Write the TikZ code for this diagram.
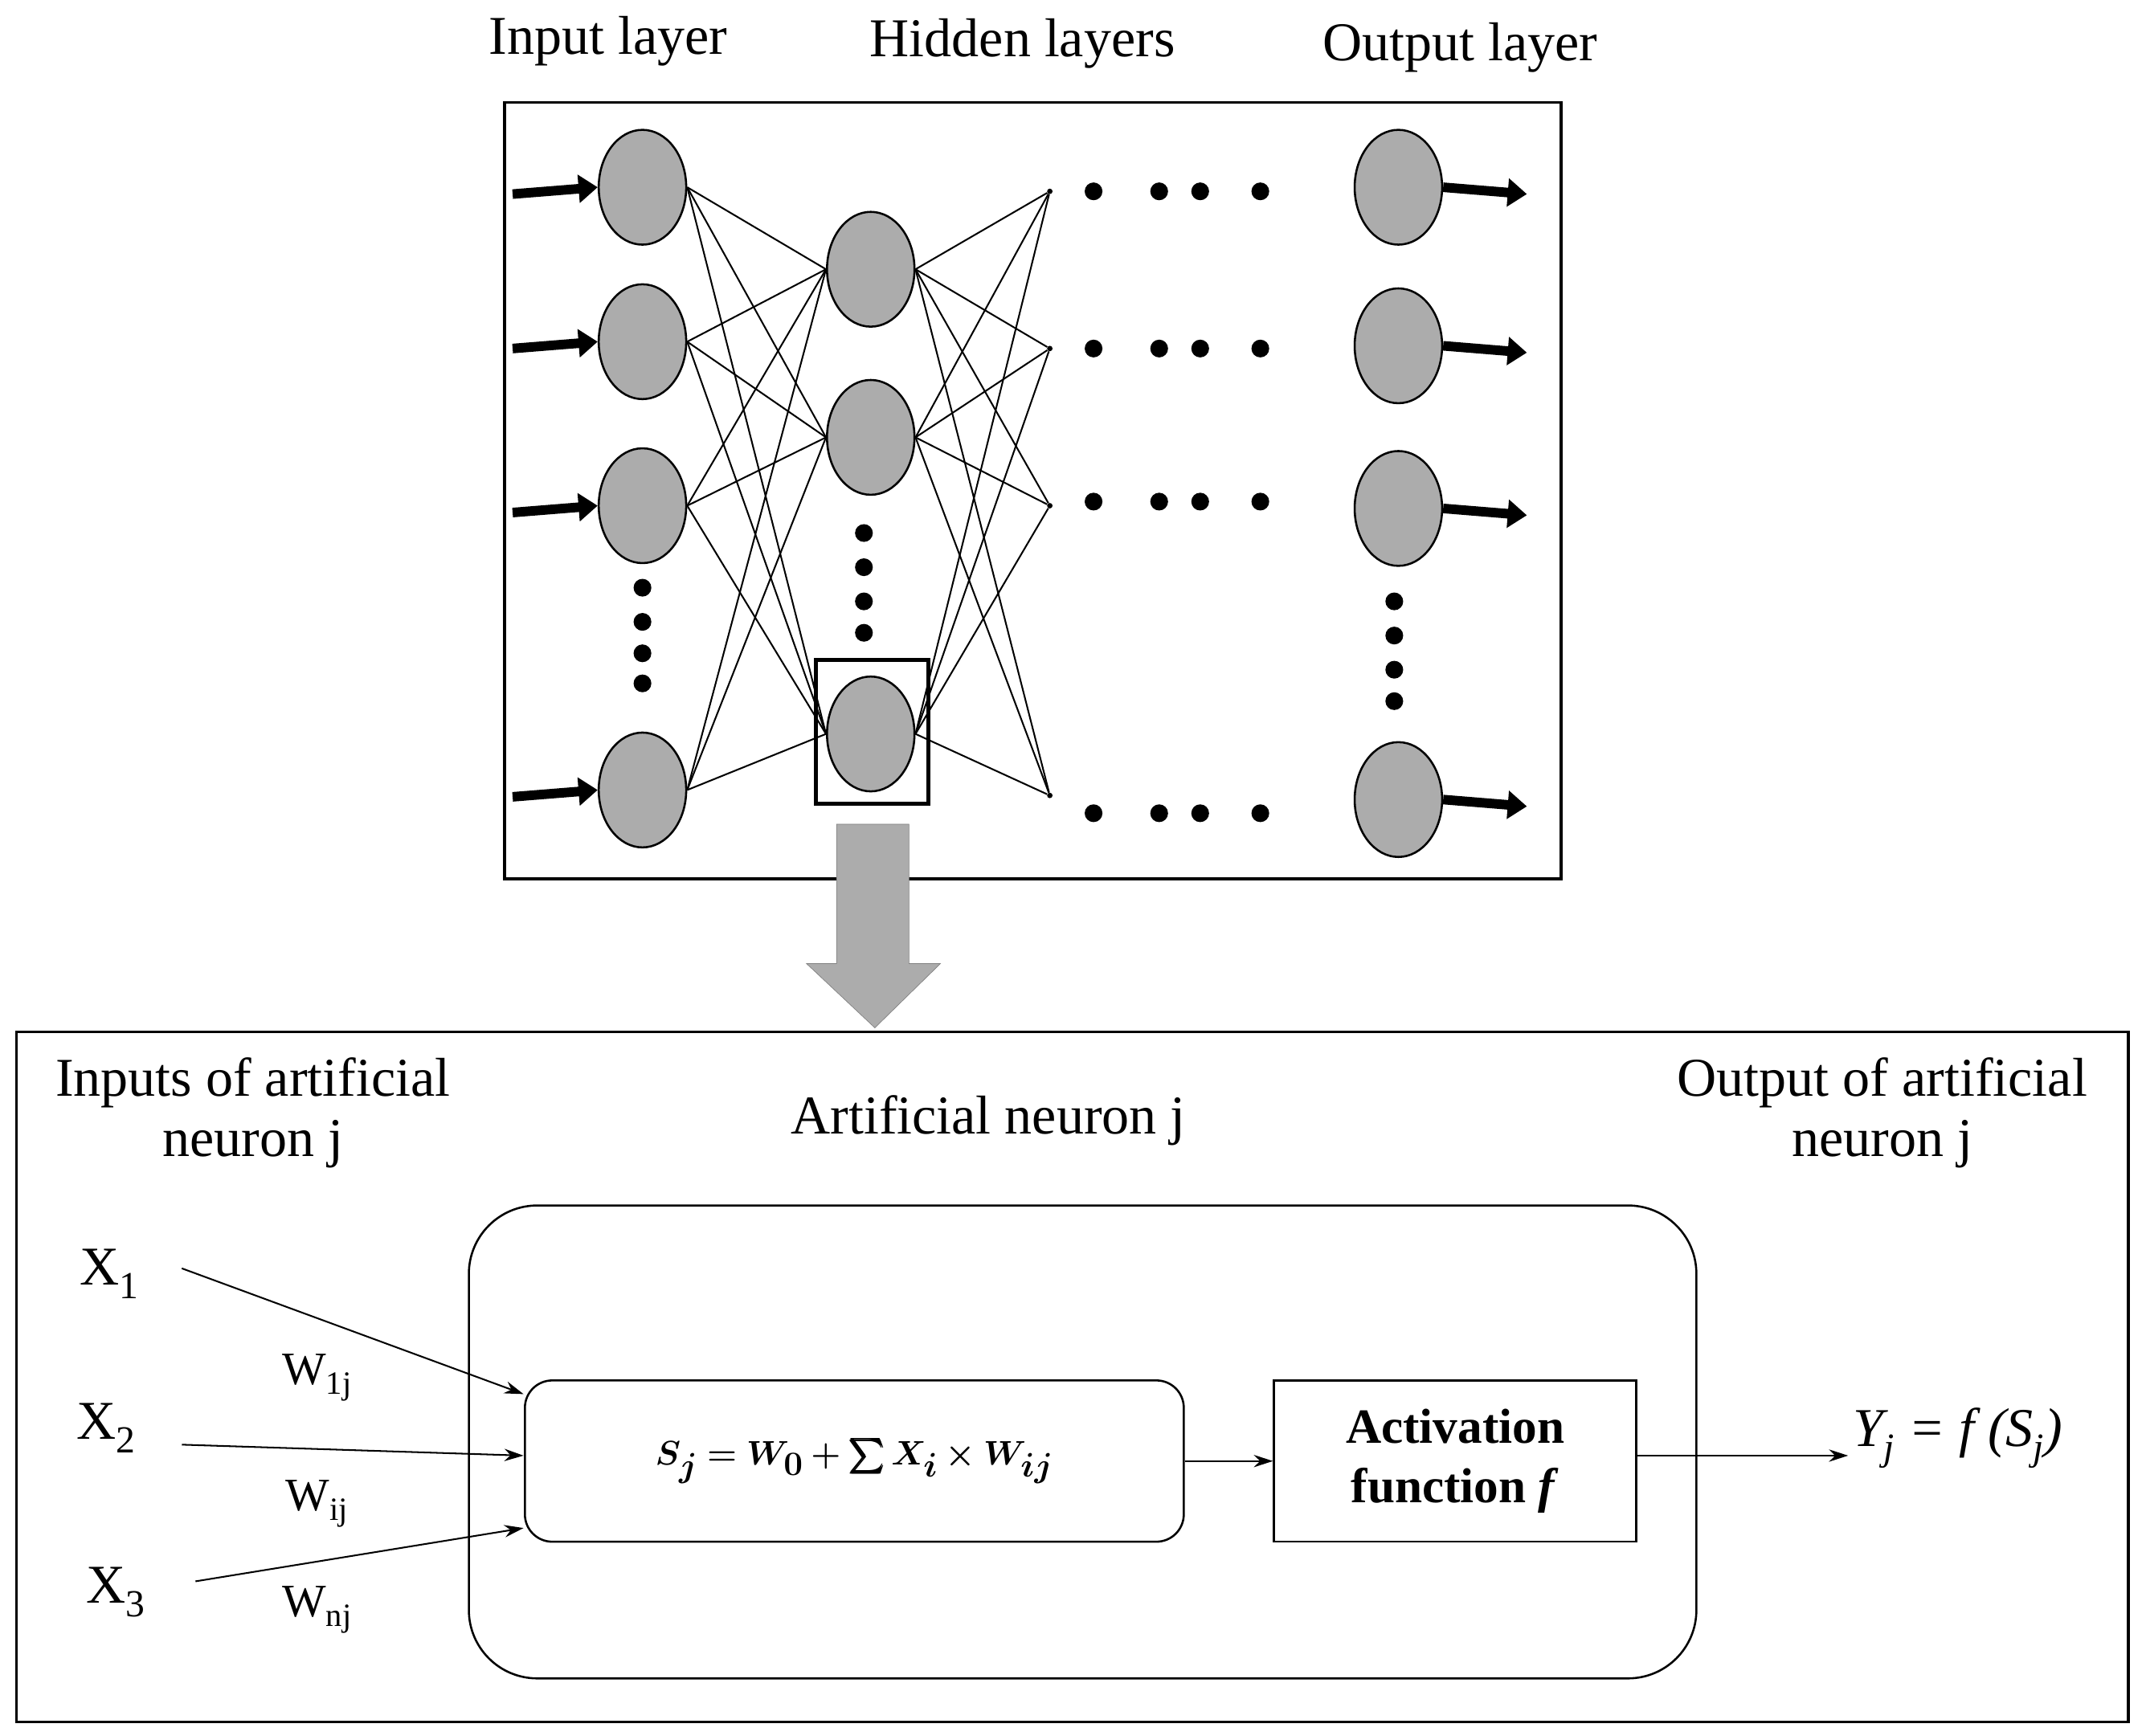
\documentclass[tikz,border=0pt]{standalone}
\usepackage{amsmath,bm}
\usepackage{fontspec}
\setmainfont{Liberation Serif}
\usetikzlibrary{shapes.geometric,arrows.meta,calc}
\begin{document}
\begin{tikzpicture}[x=1pt,y=-1pt,
 neu/.style={ellipse,draw,line width=1.5pt,fill=gray!65,minimum width=64pt,minimum height=84pt,inner sep=0pt},
 dot/.style={circle,fill=black,minimum size=13pt,inner sep=0pt},
 pt/.style={circle,fill=black,minimum size=4pt,inner sep=0pt},
 thk/.style={-{Triangle[length=14pt,width=20pt]},line width=7pt},
 lab/.style={font=\fontsize{40}{44}\selectfont,align=center},
 con/.style={line width=1.2pt},
 arr/.style={-{Stealth[length=14pt,width=9pt]},line width=1.2pt}]
\useasboundingbox (0,0) rectangle (1567,1270);
\draw[line width=2pt] (369,75) rectangle (1142,643);
\node[lab] (tl1) at (445,30) {Input layer};
\node[lab] (tl2) at (748,32) {Hidden layers};
\node[lab] (tl3) at (1068,35) {Output layer};
\foreach \i/\y in {1/137,2/250,3/370,4/578}{
 \node[neu] (i\i) at (470,\y) {};
 \coordinate (ia\i) at (375,\y+5);
 \draw[thk] (ia\i) -- (i\i.west);}
\foreach \i/\y in {1/197,2/320,3/537}{\node[neu] (h\i) at (637,\y) {};}
\foreach \i/\y/\d in {1/140/140,2/255/255,3/370/367,4/582/595}{
 \node[pt] (p\i) at (768,\y) {};
 \foreach \x [count=\k] in {800,848,878,922}{\node[dot] (hd\i\k) at (\x,\d) {};}}
\foreach \i/\y in {1/137,2/253,3/372,4/585}{
 \node[neu] (o\i) at (1023,\y) {};
 \coordinate (oa\i) at (1117,\y+5);
 \draw[thk] (o\i.east) -- (oa\i);}
\foreach \y [count=\k] in {430,455,478,500}{\node[dot] (vi\k) at (470,\y) {};}
\foreach \y [count=\k] in {390,415,440,463}{\node[dot] (vh\k) at (632,\y) {};}
\foreach \y [count=\k] in {440,465,490,513}{\node[dot] (vo\k) at (1020,\y) {};}
\foreach \a in {1,2,3,4}{\foreach \b in {1,2,3}{\draw[con] (i\a.east) -- (h\b.west);}}
\foreach \a in {1,2,3}{\foreach \b in {1,2,3,4}{\draw[con] (h\a.east) -- (p\b);}}
\node[draw,line width=3pt,minimum width=82pt,minimum height=105pt] (sel) at (638,535.5) {};
\draw[fill=gray!65,draw=gray] (612,603) -- (665,603) -- (665,705) -- (688,705) -- (640,752) -- (590,705) -- (612,705) -- cycle;
\node[draw,line width=2pt,minimum width=1545pt,minimum height=505pt] (bot) at (784.5,1007.5) {};
\node[lab] (b1) at (185,814) {Inputs of artificial\\neuron j};
\node[lab] (b2) at (723,820) {Artificial neuron j};
\node[lab] (b3) at (1377,814) {Output of artificial\\neuron j};
\node[draw,line width=1.5pt,rounded corners=50pt,minimum width=898pt,minimum height=346pt] (rr) at (792,1055) {};
\node[draw,line width=1.5pt,rounded corners=20pt,minimum width=482pt,minimum height=118pt,font=\fontsize{40}{44}\selectfont] (sum) at (625,1069) {$\bm{S_j = W_0 + \sum X_i \times W_{ij}}$};
\node[draw,line width=1.5pt,minimum width=265pt,minimum height=118pt,lab,font=\fontsize{36}{44}\selectfont\bfseries] (act) at (1064.5,1069) {Activation\\function \textit{f}};
\node[lab] (x1) at (80,932) {X\textsubscript{1}};
\node[lab] (x2) at (78,1045) {X\textsubscript{2}};
\node[lab] (x3) at (85,1165) {X\textsubscript{3}};
\node[lab,font=\fontsize{34}{40}\selectfont] (w1) at (232,1008) {W\textsubscript{1j}};
\node[lab,font=\fontsize{34}{40}\selectfont] (w2) at (232,1100) {W\textsubscript{ij}};
\node[lab,font=\fontsize{34}{40}\selectfont] (w3) at (232,1178) {W\textsubscript{nj}};
\coordinate (s1) at (133,928); \coordinate (e1) at (383,1020);
\coordinate (s2) at (133,1057); \coordinate (e2) at (383,1065);
\coordinate (s3) at (143,1157); \coordinate (e3) at (383,1118);
\draw[arr] (s1) -- (e1); \draw[arr] (s2) -- (e2); \draw[arr] (s3) -- (e3);
\draw[arr] (sum.east) -- (act.west);
\node[lab,anchor=west] (y) at (1352,1052) {\textit{Y\textsubscript{j} = f (S\textsubscript{j})}};
\draw[arr] (act.east |- 0,1065) -- (y.west |- 0,1065);
\end{tikzpicture}
\end{document}
